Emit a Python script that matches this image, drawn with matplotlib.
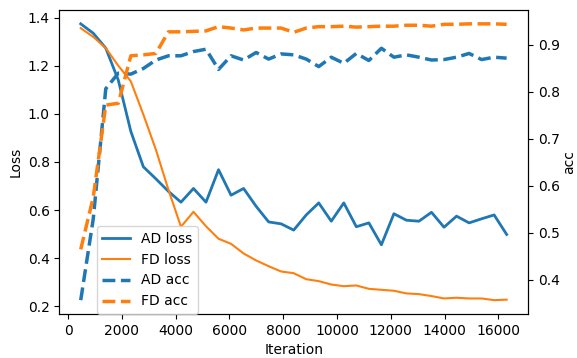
import matplotlib
matplotlib.use("Agg")
import matplotlib.pyplot as plt

# iteration counts
iters = [466, 932, 1398, 1864, 2330, 2796, 3262, 3728, 4194, 4660, 5126, 5592,
         6058, 6524, 6990, 7456, 7922, 8388, 8854, 9320, 9786, 10252, 10718,
         11184, 11650, 12116, 12582, 13048, 13514, 13980, 14446, 14912, 15378,
         15844, 16310]

ad_loss = [1.374, 1.335, 1.273, 1.14, 0.927, 0.78, 0.73, 0.678, 0.633, 0.69,
           0.633, 0.768, 0.662, 0.69, 0.616, 0.551, 0.543, 0.517, 0.58, 0.630,
           0.554, 0.630, 0.531, 0.547, 0.456, 0.585, 0.558, 0.554, 0.591,
           0.529, 0.575, 0.547, 0.564, 0.580, 0.499]

fd_loss = [1.356, 1.32, 1.273, 1.20, 1.135, 0.997, 0.851, 0.685, 0.531, 0.593,
           0.533, 0.481, 0.460, 0.420, 0.391, 0.367, 0.345, 0.338, 0.313,
           0.305, 0.291, 0.284, 0.287, 0.273, 0.269, 0.265, 0.254, 0.251,
           0.243, 0.233, 0.236, 0.233, 0.233, 0.226, 0.228]

ad_acc = [0.357, 0.53, 0.807, 0.840, 0.838, 0.850, 0.868, 0.877, 0.877, 0.886,
          0.891, 0.848, 0.877, 0.868, 0.884, 0.870, 0.881, 0.879, 0.870, 0.854,
          0.874, 0.861, 0.882, 0.867, 0.893, 0.874, 0.879, 0.874, 0.868,
          0.869, 0.874, 0.882, 0.869, 0.874, 0.872]

fd_acc = [0.465, 0.576, 0.772, 0.776, 0.877, 0.879, 0.882, 0.928, 0.928, 0.929,
          0.930, 0.939, 0.936, 0.932, 0.936, 0.936, 0.936, 0.927, 0.936, 0.939,
          0.939, 0.940, 0.938, 0.939, 0.940, 0.940, 0.942, 0.942, 0.940,
          0.944, 0.944, 0.945, 0.945, 0.945, 0.944]

fig, ax = plt.subplots(figsize=(5.77, 3.58), dpi=100)
fig.subplots_adjust(left=0.103, right=0.915, top=0.972, bottom=0.123)

l1, = ax.plot(iters, ad_loss, color='tab:blue', lw=2, label='AD loss')
l2, = ax.plot(iters, fd_loss, color='tab:orange', lw=1.5, label='FD loss')
ax.set_xlabel('Iteration')
ax.set_ylabel('Loss')

ax2 = ax.twinx()
l3, = ax2.plot(iters, ad_acc, color='tab:blue', ls='--', lw=2.5, label='AD acc')
l4, = ax2.plot(iters, fd_acc, color='tab:orange', ls='--', lw=2.5, label='FD acc')
ax2.set_ylabel('acc', labelpad=2)

lines = [l1, l2, l3, l4]
ax2.legend(lines, [l.get_label() for l in lines], loc='lower left',
           bbox_to_anchor=(0.08, 0.0), borderaxespad=0)

fig.savefig('out.png', dpi=100)
